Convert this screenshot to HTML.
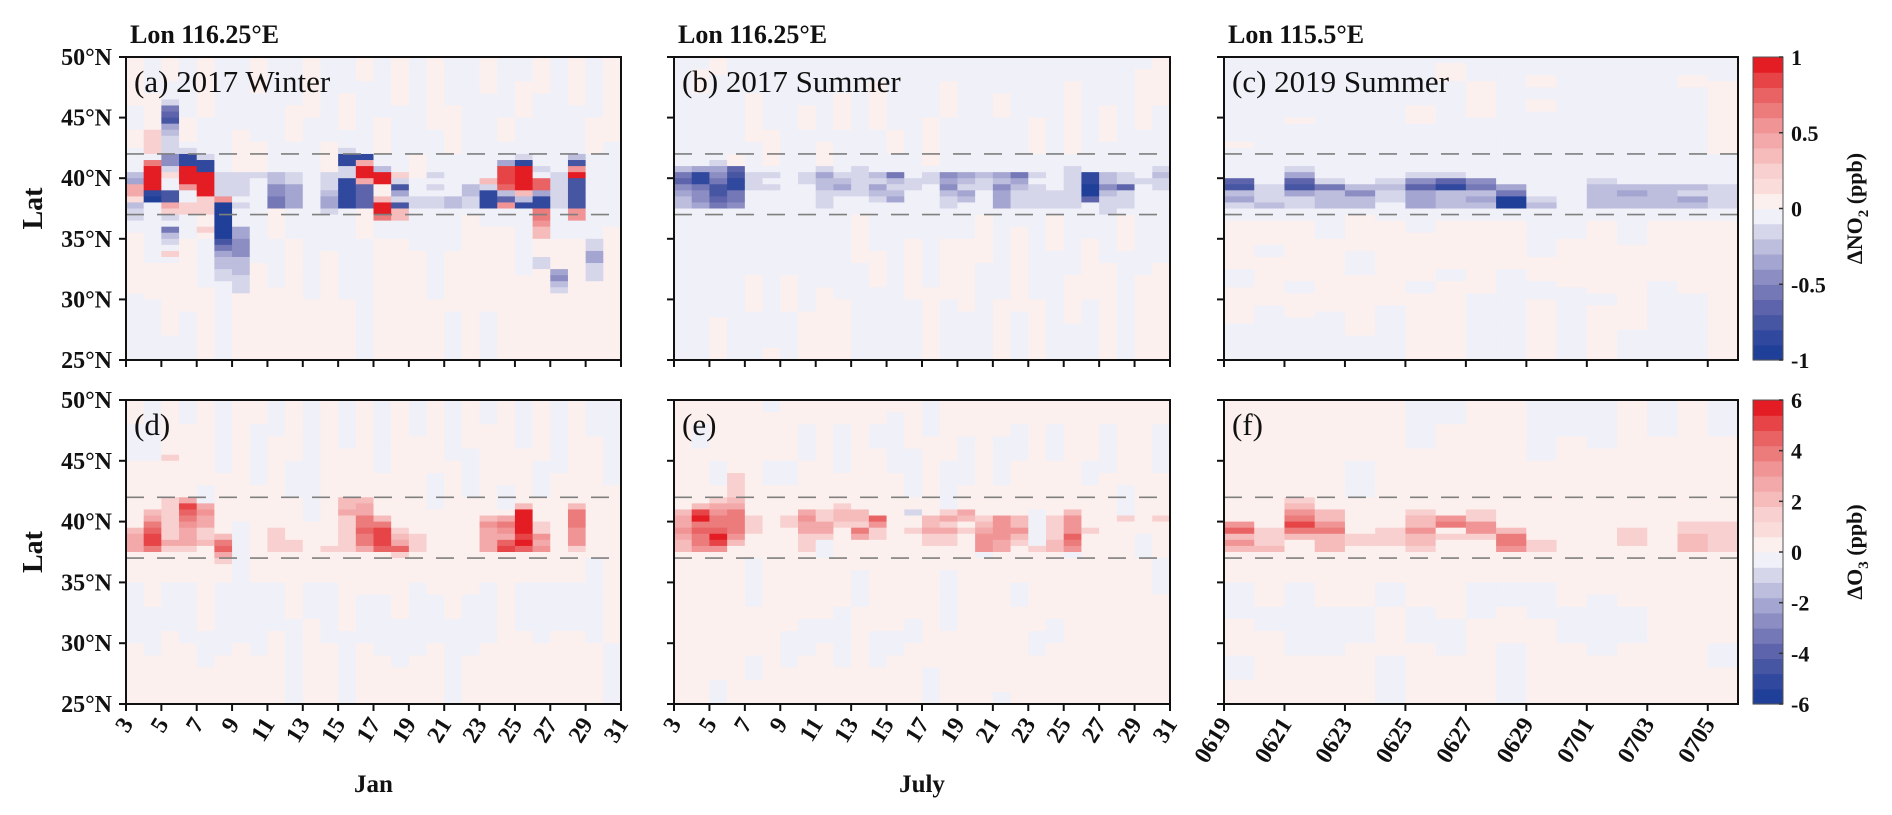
<!DOCTYPE html>
<html>
<head>
<meta charset="utf-8">
<style>
html,body{margin:0;padding:0;background:#fff;}
svg{display:block;}
text{font-family:"Liberation Serif","DejaVu Serif",serif;}
</style>
</head>
<body>
<svg id="fig" width="1892" height="815" viewBox="0 0 1892 815" xmlns="http://www.w3.org/2000/svg"></svg>
<script>
// ---------- DATA ----------
// Level codes: A..J = negative bins (-0.95..-0.05 of vmax), k..t = positive bins (0.05..0.95 of vmax)
const aBg = ["k8J4k3J14k10J11","J6k8J20k6J10","k4J30k12J4","J10k4J16k12J8","k10J6k14J8k12","J50","J12k8J16k14","k6J8k6J14k16","J20k10J8k12","J8k6J16k20","k10J30k10","J14k6J12k18","J6k6J20J8k10","k4J18k8J20","J10k6J14k20","k8J12J10k20","J16k4J12k18","k12J18J10k10","J8k8J16k10J8","J12J14k24","k6J6J16k14J8","J10k4J14k22","J4k6J20J6k14","k6J24k20","J20J10k20","k8J16J6k20","J10k6J20k14","k14J14k22"];
const aPatch = ["19:H 20:G 21-22:o 23:l 24:H 25-26:I","12-15:m 17:q 18-21:t 22:B 23:A","7:I 8:E 9:D 10:C 11:G 12:H 13-15:I 16-17:F 18:I 19:l 20-21:J 22-23:C 24:o 25:m 26:I 28:E 29:H 30:I 32:m","15:I 16-17:B 18-20:t 21:p 22-23:J 24-25:m","16:I 17-18:B 19-22:t 23-25:m 28:m","19-22:I 23:p 24-29:A 30:C 31:E 32:G 33-34:H 35-36:I","19-22:I 24:I 28-29:G 30-32:F 33-35:H 36-38:I","19:I","19-20:H 21-22:F 23-24:E","19-20:I 21-24:G","","19-21:I 22:H 23-24:G 25:I","15:I 16-17:B 18-19:I 20-24:B","16:B 17:o 18-19:t 20:o 21-24:D","18:H 19-20:t 21-22:k 23:n 24-25:t 26:q","19:m 20:I 21:C 22:G 23:I 24:C 25-26:n","23-24:I","19:I 21:I 23-24:I","23-24:H","21-22:H 23-24:I","20:n 21:I 22-24:B","17:G 18-20:s 21:r 22:H 23:D 24:p","16:I 17:B 18-21:t 22:n 23:H 24:B","18:I 20-21:r 22:G 23-24:B 25-26:q 27:p 28-29:n 33-34:I","19-24:I 35:G 36:F 37:H 38:I","16:H 17:C 18:p 19:t 20-24:C 25-26:p","30-31:I 32-33:G 34-36:I",""];

const bBg = ["J50","J2k4J10J34","k3J40k7","J16k4J30","J6k8J10J12k6J8","J12k6J30k2","J20J16k6J8","J8k4J30k8","J14k6J8J10k12","J6k6J28k10","J16J10k8J16","J4k8J20k6J12","J12k4J34","J24J6k10J10","J10k8J20k12","J4k6J20k10J10","J30k12J8","J14J12k8J16","J6k4J30k10","J20J8k14J8","J10k6J24k10","J16J10k6J18","J4k12J20k8J6","J20J10k10J10","J8k6J20k16","J12J14k6J18","J2k10J14J10k14","k8J6J20k16"];
const bPatch = ["18:H 19:E 20:D 21:F 22:G 23-24:H","18:G 19-20:B 21:E 22-23:F 24:G","17:I 18:G 19:F 20:E 21-22:C 23:D 24:E","18:D 19:C 20-21:B 22-23:E 24:F","19-21:I","19:I 21:I","","19-20:I","18:I 19:G 20-21:H 22-24:I","19:I 20:H 21:G 22:I","18-22:I","19:H 20:I 21:G 22:H 23:I","19:E 20:H 21:I 22:H 23:G","20-21:I","19-20:I","19:F 20:G 21:F 22:H 23-24:I","19:G 20:H 21:I 22:G 23:H","19:H 20-21:I","19:G 20:H 21:F 22-24:G","19:E 20:G 21:H 22-24:I","19:I 21-24:I","22-24:I","18-24:I","19-20:B 21-22:A 23:D","19-20:H 21:F 22:H 23-25:I","19-20:I 21:D 22-24:I","20:I","18:I 19:H 20-21:I"];

const cBg = ["J14k1J12k8J3k6J6","J27k4J2k8J9","J10k1J16k10J2k4J7","J27J3k12J8","J26k6J4k10J4","J27k14J9","J8k3J16J2k8J2k11","J1k3J23k8J2k13","J4k6J17k12J11","J27k8J15","J3k2J2k2J18J6k4J3k10","J27J3k8J12","J27k12J2k9","J27J4k14J5","J27k10J13","J3k2J22k12J11","J4k12J11k23"];
const cPatch = ["20:D 21:C 22:H 23:G 24:I","21-23:I 24:H","18:I 19:G 20:D 21:C 22:G 23-24:I","20:I 21:E 22-24:H","21:H 22:F 23-24:H","20:I 21:H 22-23:I","19:I 20:F 21:D 22-24:G","19:I 20:D 21:B 22-24:H","20:F 21:E 22:H 23:G 24:H","21:G 22:E 23-24:A","23:I 24:H","","20:I 21-24:H","21:H 22:G 23-24:H","21-24:H","21:H 22:I 23:G 24:H","21-24:I"];

const dBg = ["k4J6k20J10k10","J10k24J8k8","k30J8k12","J4k16k10J10k10","k14J4k20J6k6","J12k18J12k8","k20J20k10","k4J10k16J12k8","J6k24J8k12","k10J6k20J14","J20k10J6k14","k30J10k10","J8k22k8J12","k16J4k12J8k10","J12k20J10k8","k30k6J8k6","J6k24J12k8","k12J6k14J8k10","J10k20k6J14","k8J8k16J10k8","J4k26J10k10","k14J4k20k12","J8k22J8k12","k10J6k14J10k10","J12k18J8k12","k30J8k12","J6k20J14k10","J14k16k10J10"];
const dPatch = ["21:n 22-24:o","18:n 19:o 20:q 21:r 22-23:s 24:q","9:m 16-22:m 23:o 24:m","16:o 17:s 18:r 19:q 20:p 21-23:o 24:m","17:o 18:p 19-20:o 21-22:m 23:n","22:n 23:q 24:r 25:o 26:m","","","21-24:m","23-24:m","","24:m","16-17:n 18:o 19-24:m","16:n 17-18:o 19-20:q 21:r 22-23:q 24:o","19:n 20:q 21-23:s 24:r","21:m 22:n 23:o 24:r 25:m","22-24:m","","","","19:n 20:p 21-24:o","19:o 20:q 21:p 22:o 23:r 24:s","17:n 18-21:t 22:s 23:t 24:r","20-21:m 22:p 23:o 24:p","","17:n 18-20:q 21-23:p 24:m","",""];

const eBg = ["k50","k4J4k30k12","k10J4k24k8J4","k16J6k28","k26J8k8J4k4","J2k8J4k36","k10J4k24J6k6","k4J6k26J6k8","k20J6k10J4k10","k4J8k22J10k6","k28J6k16","k4J4k30J6k6","k2J10k26J4k8","k8J8k20J4k10","J6k14k24J6","k10J8k10J10k12","k6J8k36","k20J6k24","k6J8k34J2","k4J6k20J4k16","k18J6k14J4k8","k4J6k26J4k10","k22J4k24","k10J4k36","k4J8k38","k14J6k30","k22J4k24","k4J8k14J6k18"];
const ePatch = ["18:n 19-20:o 21:p 22:o 23-24:n","17:n 18:s 19:t 20:q 21:r 22-23:q 24:p","16:m 17:o 18:p 19-20:q 21:r 22:t 23:s 24:p","12-15:m 16:n 17:o 18-21:q 22:p 23:n","19:m 20-21:m","","19-20:m","18:o 19:p 20-21:o 22-24:m","18-19:m 20-21:o 22:m","17:m 18-19:n 20:m","18-19:n 20:m 21:q 22:o","19:r 20:p 21-22:m","","18:I 21:m","19-20:n 21:o 22-23:m","18:m 19:o 20:m 21:o 22-23:m","18:o 19:n 21:m","19:m 20:n 21:o 22-24:p","19-22:p 23-24:o","19-20:n 21:p 22:n 23:m","24:m","19-22:m 23-24:n","18:n 19-21:p 22:r 23:q 24:p","21:m","","19:m","","19:m"];

const fBg = ["k30J6k6J4k4","k34J4k12","k30J6J6k8","k34J8k8","k10J6k18J6k10","k30J4k8J8","J8k26J6k10","J4k10k22J6k8","k30J6k14","k30J4k6J10","J10k20J6k14","J6k24k4J6k10","J8k24J10k8","k34J6k10","J6k18k26","k50","J6k34J4k6"];
const fPatch = ["20:p 21:r 22:n 23:p 24:n","21-23:m 24:n","16:m 17:n 18:p 19:q 20:s 21:q 22:n","18-19:n 20:p 21:q 22-24:n","22-23:m","21-23:m","18:m 19-20:n 21:p 22-23:n 24:m","19:p 20:q 21:k 22:m","18-19:m 20-21:p 22:m","21:n 22-23:q 24:p","23-24:m","","","21-23:m","","20-21:m 22-24:n","20-24:m"];

const daysWinter = ["3","5","7","9","11","13","15","17","19","21","23","25","27","29","31"];
const daysJuly = ["3","5","7","9","11","13","15","17","19","21","23","25","27","29","31"];
const days2019 = ["0619","0621","0623","0625","0627","0629","0701","0703","0705"];
const latTicks = [50,45,40,35,30,25];
const dashLats = [42,37];
const no2Ticks = [1,0.5,0,-0.5,-1];
const o3Ticks = [6,4,2,0,-2,-4,-6];

// ---------- RENDER ----------
const svg = document.getElementById('fig');
const NS = 'http://www.w3.org/2000/svg';
const COLORS = ["#1f3f98","#30489d","#4756a3","#5d64ac","#7478b7","#8c8ec3","#a4a5d0","#bdbddd","#d6d6eb","#eff0f8",
                "#fcf0ee","#fadcda","#f8d0cf","#f5bcbb","#f3a9a9","#f09495","#ec7b7c","#e96264","#e64446","#e31d23"];
function el(tag, attrs, parent){ const e=document.createElementNS(NS,tag); for(const k in attrs) e.setAttribute(k,attrs[k]); (parent||svg).appendChild(e); return e; }
function codeVal(ch, vmax){ const s="ABCDEFGHIJklmnopqrst"; const i=s.indexOf(ch); return ((i-9.5)/10)*vmax; }
function colorOf(v, vmax){ let b=Math.floor((v+vmax)/(2*vmax)*20); b=Math.max(0,Math.min(19,b)); return COLORS[b]; }
function decodeBg(str){ const out=[]; const re=/([A-Za-z])(\d+)/g; let m; while((m=re.exec(str))){ for(let i=0;i<+m[2];i++) out.push(m[1]); } while(out.length<50) out.push(out[out.length-1]||'J'); return out.slice(0,50); }
function buildGrid(bg, patch, vmax){
  return bg.map((b,ci)=>{ const col=decodeBg(b).map(c=>codeVal(c,vmax));
    (patch[ci]||"").split(" ").filter(Boolean).forEach(p=>{ const [r,c]=p.split(":"); const [r0,r1]=r.split("-").map(Number); for(let k=r0;k<=(isNaN(r1)?r0:r1);k++) col[k]=codeVal(c,vmax); });
    return col; });
}

const TOP=[57,360], BOT=[400,704];
const panels = [
  {id:'a', x:[126,621], y:TOP, bg:aBg, patch:aPatch, vmax:1, ticks:daysWinter, ylab:true, label:'(a) 2017 Winter', title:'Lon 116.25°E', xlab:false},
  {id:'b', x:[674,1170], y:TOP, bg:bBg, patch:bPatch, vmax:1, ticks:daysJuly, ylab:false, label:'(b) 2017 Summer', title:'Lon 116.25°E', xlab:false},
  {id:'c', x:[1224,1738], y:TOP, bg:cBg, patch:cPatch, vmax:1, ticks:days2019, ylab:false, label:'(c) 2019 Summer', title:'Lon 115.5°E', xlab:false},
  {id:'d', x:[126,621], y:BOT, bg:dBg, patch:dPatch, vmax:6, ticks:daysWinter, ylab:true, label:'(d)', xlab:true, axis:'Jan'},
  {id:'e', x:[674,1170], y:BOT, bg:eBg, patch:ePatch, vmax:6, ticks:daysJuly, ylab:false, label:'(e)', xlab:true, axis:'July'},
  {id:'f', x:[1224,1738], y:BOT, bg:fBg, patch:fPatch, vmax:6, ticks:days2019, ylab:false, label:'(f)', xlab:true}
];

panels.forEach(p=>{
  const g = el('g',{});
  
  
  const grid = buildGrid(p.bg, p.patch, p.vmax);
  const nC = grid.length;
  const xs = i => p.x[0] + (p.x[1]-p.x[0])*i/nC;
  const ys = lat => p.y[0] + (50-lat)/25*(p.y[1]-p.y[0]);
  grid.forEach((col,ci)=>{ col.forEach((v,ri)=>{
    const x0=xs(ci), x1=xs(ci+1), y0=ys(50-ri*0.5), y1=ys(50-(ri+1)*0.5);
    const r = el('rect',{x:x0.toFixed(2),y:y0.toFixed(2),width:(x1-x0+0.6).toFixed(2),height:(y1-y0+0.6).toFixed(2),fill:colorOf(v,p.vmax)},g);
    
    
  });});
  dashLats.forEach(lat=>{
    const l=el('line',{x1:p.x[0],x2:p.x[1],y1:ys(lat),y2:ys(lat),stroke:'#7f7f7f','stroke-width':1.6,'stroke-dasharray':'18 13'},g);
    
    
  });
  const frame=el('rect',{x:p.x[0],y:p.y[0],width:p.x[1]-p.x[0],height:p.y[1]-p.y[0],fill:'none',stroke:'#111','stroke-width':2},g);
  
  
  latTicks.forEach(lat=>{
    el('line',{x1:p.x[0]-7,x2:p.x[0],y1:ys(lat),y2:ys(lat),stroke:'#111','stroke-width':2},g);
    if(p.ylab){
      const t=el('text',{x:p.x[0]-14,y:ys(lat)+8,'text-anchor':'end','font-size':24,'font-weight':'bold',fill:'#111'},g);
      t.textContent=lat+'°N';
      
      
    }
  });
  const nT=p.ticks.length;
  const step = (p.id==='c'||p.id==='f') ? 2*(p.x[1]-p.x[0])/17 : (p.x[1]-p.x[0])/(nT-1);
  p.ticks.forEach((lab,i)=>{
    const tx=p.x[0]+i*step;
    el('line',{x1:tx,x2:tx,y1:p.y[1],y2:p.y[1]+7,stroke:'#111','stroke-width':2},g);
    if(p.xlab){
      const t=el('text',{x:0,y:0,'text-anchor':'end','font-size':24,'font-weight':'bold',fill:'#111',transform:`translate(${tx+8},${p.y[1]+20}) rotate(-58)`},g);
      t.textContent=lab;
      
      
    }
  });
  const lbl=el('text',{x:p.x[0]+8,y:p.y[0]+35,'font-size':31,fill:'#111'},g);
  lbl.textContent=p.label;
  
  
  if(p.title){
    const t=el('text',{x:p.x[0]+4,y:43,'font-size':26,'font-weight':'bold',fill:'#111'},g);
    t.textContent=p.title;
    
    
  }
  if(p.axis){
    const t=el('text',{x:(p.x[0]+p.x[1])/2,y:792,'text-anchor':'middle','font-size':25,'font-weight':'bold',fill:'#111'},g);
    t.textContent=p.axis;
    
    
  }
  if(p.ylab){
    const cy=(p.y[0]+p.y[1])/2;
    const t=el('text',{x:0,y:0,'text-anchor':'middle','font-size':28,'font-weight':'bold',fill:'#111',transform:`translate(42,${cy}) rotate(-90)`},g);
    t.textContent='Lat';
    
    
  }
});

function colorbar(yr, vmax, ticks, sub, fmt, name){
  const g=el('g',{});
  
  
  const x0=1753,x1=1783,h=yr[1]-yr[0];
  COLORS.forEach((c,i)=>{ const y=yr[1]-(i+1)*h/20; el('rect',{x:x0,y:y.toFixed(2),width:x1-x0,height:(h/20+0.6).toFixed(2),fill:c},g); });
  el('rect',{x:x0,y:yr[0],width:x1-x0,height:h,fill:'none',stroke:'#555','stroke-width':1},g);
  ticks.forEach(v=>{
    const y=yr[1]-(v+vmax)/(2*vmax)*h;
    el('line',{x1:x1-4,x2:x1,y1:y,y2:y,stroke:'#333','stroke-width':1.5},g);
    const t=el('text',{x:1791,y:y+8,'font-size':22,'font-weight':'bold',fill:'#111'},g);
    t.textContent=fmt(v);
    
    
  });
  const cy=(yr[0]+yr[1])/2;
  const t=el('text',{x:0,y:0,'text-anchor':'middle','font-size':22,'font-weight':'bold',fill:'#111',transform:`translate(1862,${cy}) rotate(-90)`},g);
  t.innerHTML='Δ'+sub+'<tspan dy="6" font-size="15">'+(sub==='NO'?'2':'3')+'</tspan><tspan dy="-6"> (ppb)</tspan>';
  
  
}
colorbar(TOP,1,no2Ticks,'NO',v=>String(v),'no2-colorbar');
colorbar(BOT,6,o3Ticks,'O',v=>String(v),'o3-colorbar');
</script>
</body>
</html>
